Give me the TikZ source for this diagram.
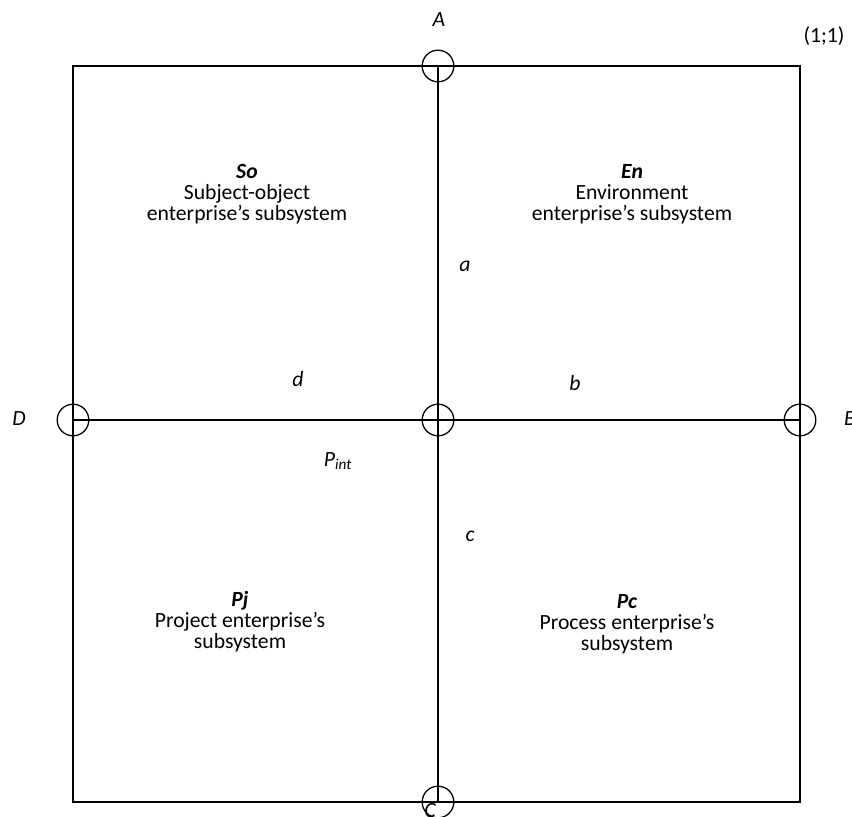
\documentclass[tikz,border=0pt]{standalone}
\usepackage{fontspec}
\setmainfont{Carlito}
\usetikzlibrary{positioning}
\tikzset{
    frame/.style={line width=2.4pt},
    axisline/.style={line width=1.1pt},
    joint/.style={circle, draw, line width=1.1pt, minimum size=27pt, inner sep=0pt},
    pointlabel/.style={font=\fontsize{18.5}{18}\selectfont\itshape},
    sublabel/.style={align=center, font=\fontsize{18.5}{18}\selectfont}
}
\begin{document}
\begin{tikzpicture}[x=0.03cm, y=-0.03cm]
    \useasboundingbox (0,0) rectangle (852,816);
    % outer square
    \draw[frame] (73,66) rectangle (800,802);
    % joints
    \node[joint] (A) at (438,66) {};
    \node[joint] (C) at (438,802) {};
    \node[joint] (D) at (73,420) {};
    \node[joint] (B) at (800,420) {};
    \node[joint] (P) at (438,420) {};
    \draw[axisline] (A.center) -- (C.center);
    \draw[axisline] (D.center) -- (B.center);
    % point labels
    \node[pointlabel] (lA) at (439,20) {A};
    \node[pointlabel] (lC) at (430,811) {C};
    \node[pointlabel] (lD) at (19,419) {D};
    \node[pointlabel] (lB) at (850,419) {B};
    \node[sublabel] (one) at (824,36) {(1;1)};
    \node[pointlabel] (la) at (465,266) {a};
    \node[pointlabel] (lb) at (575,383) {b};
    \node[pointlabel] (lc) at (470,536) {c};
    \node[pointlabel] (ld) at (298,379) {d};
    \node[pointlabel] (lP) at (338,461) {P$_{\mathit{int}}$};
    % subsystems
    \node[sublabel] (So) at (247,194) {\textbf{\textit{So}}\\Subject-object\\enterprise’s subsystem};
    \node[sublabel] (En) at (632,194) {\textbf{\textit{En}}\\Environment\\enterprise’s subsystem};
    \node[sublabel] (Pj) at (240,622) {\textbf{\textit{Pj}}\\Project enterprise’s\\subsystem};
    \node[sublabel] (Pc) at (627,624) {\textbf{\textit{Pc}}\\Process enterprise’s\\subsystem};
\end{tikzpicture}
\end{document}
